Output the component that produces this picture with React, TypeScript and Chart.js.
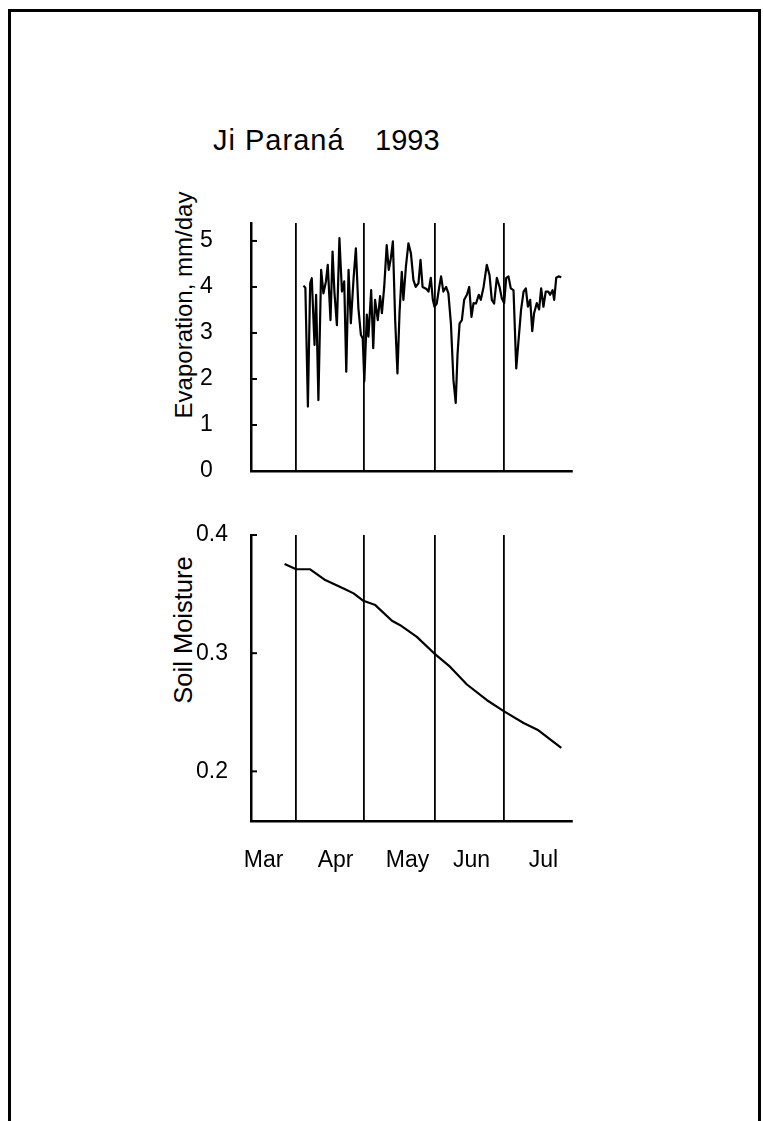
import React, { useEffect, useRef } from 'react';
import { Chart, registerables } from 'chart.js';

Chart.register(...registerables);

const FONT = '"Liberation Sans", Arial, Helvetica, sans-serif';

// ---- data ----
const titleText = 'Ji Paraná';
const yearText = '1993';
const evapAxisTitle = 'Evaporation, mm/day';
const soilAxisTitle = 'Soil Moisture';

const monthLabels = ['Mar', 'Apr', 'May', 'Jun', 'Jul'];
const monthLabelDays = [77, 108.5, 140, 168, 199.5];
const monthStartDays = [91, 121, 152, 182];

const evapTicks = [0, 1, 2, 3, 4, 5];
const soilTicks = [0.2, 0.3, 0.4];

const evapDays = [
  94.5, 95.3, 96.4, 97.4, 98.1, 99.3, 100.0, 101.0, 102.2, 103.2, 104.3, 105.1, 106.3, 107.2, 108.0,
  109.1, 110.2, 111.3, 112.3, 113.2, 114.2, 115.2, 116.4, 117.4, 118.5, 119.6, 120.4, 121.1, 122.2,
  122.9, 124.1, 125.0, 125.8, 127.0, 128.0, 128.8, 129.8, 130.9, 131.8, 132.7, 133.6, 134.6, 135.6,
  136.5, 137.5, 138.2, 139.3, 140.4, 141.5, 142.6, 143.6, 144.8, 145.7, 146.6, 147.7, 148.4, 149.2,
  150.2, 151.1, 151.8, 152.8, 153.9, 154.7, 155.7, 156.9, 157.9, 159.0, 160.1, 161.1, 161.9, 162.8,
  163.8, 164.8, 166.0, 167.0, 168.0, 168.9, 170.0, 171.2, 172.1, 173.3, 174.7, 175.9, 176.9, 177.9,
  179.1, 180.3, 181.3, 182.3, 183.2, 184.2, 185.2, 186.4, 187.6, 188.6, 189.7, 190.8, 191.8, 192.7,
  193.7, 194.6, 195.4, 196.6, 197.6, 198.5, 199.5, 200.5, 201.6, 202.4, 203.5, 204.2, 205.1, 206.1,
  207.3,
];
const evapValues = [
  4.03, 3.98, 1.4, 4.08, 4.19, 2.74, 3.83, 1.54, 4.37, 3.86, 4.12, 4.48, 3.28, 4.77, 3.9,
  3.17, 5.06, 3.9, 4.12, 2.16, 4.37, 3.21, 4.19, 4.84, 3.54, 2.96, 2.88, 1.95, 3.4,
  2.92, 3.93, 2.67, 3.72, 3.28, 3.8, 3.43, 4.0, 4.91, 4.37, 4.62, 4.99, 3.28, 2.12,
  3.43, 4.33, 3.72, 4.44, 4.95, 4.73, 4.15, 4.0, 4.08, 4.59, 4.0, 3.97, 3.95, 3.9,
  4.2, 3.72, 3.57, 3.64, 4.0, 4.23, 3.9, 4.0, 3.86, 3.21, 1.98, 1.48, 2.54, 3.21,
  3.28, 3.72, 3.83, 4.0, 3.35, 3.65, 3.64, 3.83, 3.72, 4.0, 4.48, 4.26, 3.72, 3.64,
  4.2, 4.0, 3.75, 3.65, 4.19, 4.23, 3.97, 3.93, 2.23, 2.84, 3.5, 3.9, 3.97, 3.57,
  3.72, 3.04, 3.43, 3.65, 3.51, 3.97, 3.57, 3.9, 3.9, 3.83, 3.93, 3.72, 4.2, 4.23,
  4.21,
];

const soilDays = [
  86.2, 91.3, 97.4, 104.0, 112.0, 116.4, 120.7, 125.9, 133.2, 136.8, 144.1, 151.4, 158.7, 166.0,
  174.8, 182.3, 190.8, 197.3, 207.3,
];
const soilValues = [
  0.3754, 0.371, 0.371, 0.3619, 0.3548, 0.3506, 0.3443, 0.3407, 0.3274, 0.3237, 0.3138, 0.3003,
  0.2884, 0.2735, 0.2602, 0.2508, 0.2409, 0.2347, 0.2198,
];

const X_MIN = 71.5;
const X_MAX = 212;

const inwardTicks = {
  id: 'inwardTicks',
  afterDraw(chart: any) {
    const { ctx, chartArea, scales } = chart;
    const y = scales.y;
    ctx.save();
    ctx.strokeStyle = '#000';
    ctx.lineWidth = 2;
    y.ticks.forEach((t: any) => {
      const py = y.getPixelForValue(t.value);
      ctx.beginPath();
      ctx.moveTo(chartArea.left, py);
      ctx.lineTo(chartArea.left + 6, py);
      ctx.stroke();
    });
    ctx.restore();
  },
};

const gridColor = (ctx: any) =>
  ctx.tick && monthStartDays.includes(ctx.tick.value) ? '#000' : 'rgba(0,0,0,0)';

export default function App() {
  const topRef = useRef<HTMLCanvasElement>(null);
  const botRef = useRef<HTMLCanvasElement>(null);

  useEffect(() => {
    const common: any = {
      animation: false,
      responsive: false,
      maintainAspectRatio: false,
      devicePixelRatio: 1,
      events: [],
      plugins: { legend: { display: false }, tooltip: { enabled: false }, title: { display: false } },
    };

    const c1 = new Chart(topRef.current as HTMLCanvasElement, {
      type: 'line',
      data: {
        datasets: [
          {
            data: evapDays.map((d, i) => ({ x: d, y: evapValues[i] })),
            borderColor: '#000',
            borderWidth: 2.2,
            pointRadius: 0,
            tension: 0,
            fill: false,
            borderJoinStyle: 'round',
          },
        ],
      },
      options: {
        ...common,
        layout: { padding: { left: 50, top: 23, right: 28, bottom: 19 } },
        scales: {
          x: {
            type: 'linear',
            min: X_MIN,
            max: X_MAX,
            afterBuildTicks: (s: any) => {
              s.ticks = monthStartDays.map((v) => ({ value: v }));
            },
            ticks: { display: false },
            grid: { color: gridColor, lineWidth: 1.8, drawTicks: false },
            border: { display: true, color: '#000', width: 2.5 },
            afterFit: (s: any) => {
              s.height = 0;
            },
          },
          y: {
            type: 'linear',
            min: 0,
            max: 5.39,
            afterBuildTicks: (s: any) => {
              s.ticks = evapTicks.map((v) => ({ value: v }));
            },
            ticks: { color: '#000', font: { family: FONT, size: 23 }, padding: 0, crossAlign: 'far' },
            grid: { display: false, drawTicks: false },
            border: { display: true, color: '#000', width: 2.5 },
            afterFit: (s: any) => {
              s.width = 51;
            },
          },
        },
      },
      plugins: [inwardTicks],
    } as any);

    const allXTicks = [...monthLabelDays, ...monthStartDays].sort((a, b) => a - b);

    const c2 = new Chart(botRef.current as HTMLCanvasElement, {
      type: 'line',
      data: {
        datasets: [
          {
            data: soilDays.map((d, i) => ({ x: d, y: soilValues[i] })),
            borderColor: '#000',
            borderWidth: 2.2,
            pointRadius: 0,
            tension: 0,
            fill: false,
            borderJoinStyle: 'round',
          },
        ],
      },
      options: {
        ...common,
        layout: { padding: { left: 46, top: 15, right: 28, bottom: 9 } },
        scales: {
          x: {
            type: 'linear',
            min: X_MIN,
            max: X_MAX,
            afterBuildTicks: (s: any) => {
              s.ticks = allXTicks.map((v) => ({ value: v }));
            },
            ticks: {
              color: '#000',
              font: { family: FONT, size: 23 },
              padding: 26,
              autoSkip: false,
              maxRotation: 0,
              minRotation: 0,
              callback: (value: any) => {
                const i = monthLabelDays.indexOf(Number(value));
                return i >= 0 ? monthLabels[i] : '';
              },
            },
            grid: { color: gridColor, lineWidth: 1.8, drawTicks: false },
            border: { display: true, color: '#000', width: 2.5 },
            afterFit: (s: any) => {
              s.height = 70;
            },
          },
          y: {
            type: 'linear',
            min: 0.158,
            max: 0.4,
            afterBuildTicks: (s: any) => {
              s.ticks = soilTicks.map((v) => ({ value: v }));
            },
            ticks: {
              color: '#000',
              font: { family: FONT, size: 23 },
              padding: 0,
              crossAlign: 'far',
              callback: (v: any) => Number(v).toFixed(1),
            },
            grid: { display: false, drawTicks: false },
            border: { display: true, color: '#000', width: 2.5 },
            afterFit: (s: any) => {
              s.width = 55;
            },
          },
        },
      },
      plugins: [inwardTicks],
    } as any);

    return () => {
      c1.destroy();
      c2.destroy();
    };
  }, []);

  const rotated = (cx: number, cy: number, size: number): React.CSSProperties => ({
    position: 'absolute',
    left: cx,
    top: cy,
    transform: 'translate(-50%, -50%) rotate(-90deg)',
    fontSize: size,
    lineHeight: 1,
    whiteSpace: 'nowrap',
  });

  return (
    <div
      style={{
        position: 'fixed',
        left: 0,
        top: 0,
        width: 763,
        height: 1121,
        overflow: 'hidden',
        background: '#fff',
        fontFamily: FONT,
        color: '#000',
      }}
    >
      <div
        style={{
          position: 'absolute',
          left: 8,
          top: 9,
          width: 753,
          height: 1112,
          boxSizing: 'border-box',
          borderTop: '3px solid #000',
          borderLeft: '3px solid #000',
          borderRight: '3px solid #000',
        }}
      />
      <span
        style={{
          position: 'absolute',
          left: 213,
          top: 126,
          fontSize: 29,
          lineHeight: 1,
          letterSpacing: 1,
          whiteSpace: 'nowrap',
        }}
      >
        {titleText}
      </span>
      <span style={{ position: 'absolute', left: 375, top: 126, fontSize: 29, lineHeight: 1, whiteSpace: 'nowrap' }}>
        {yearText}
      </span>
      <div style={rotated(184, 305, 24)}>{evapAxisTitle}</div>
      <div style={rotated(184, 630, 25.5)}>{soilAxisTitle}</div>
      <canvas
        ref={topRef}
        width={450}
        height={290}
        style={{ position: 'absolute', left: 150, top: 200, width: 450, height: 290 }}
      />
      <canvas
        ref={botRef}
        width={450}
        height={380}
        style={{ position: 'absolute', left: 150, top: 520, width: 450, height: 380 }}
      />
    </div>
  );
}
